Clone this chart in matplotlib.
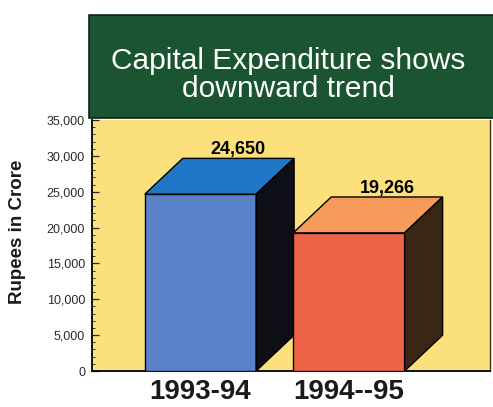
import matplotlib.pyplot as plt
from matplotlib.patches import Polygon, Rectangle
from matplotlib.ticker import MultipleLocator, FuncFormatter

plt.rcParams['font.family'] = 'Liberation Sans'

# Capital expenditure, Rupees in crore
years = ['1993-94', '1994--95']
spend = [24650, 19266]
value_labels = ['24,650', '19,266']

front_colours = ['#5b82c8', '#ef6448']
top_colours = ['#1f77c6', '#f79b5c']
side_colours = ['#0e0e16', '#3a2612']

W, H = 493, 407
fig = plt.figure(figsize=(W / 100, H / 100), dpi=100)
fig.patch.set_facecolor('white')

# plot area in pixel terms -> figure fractions
ax = fig.add_axes([92 / W, (H - 371) / H, (490 - 92) / W, (371 - 120) / H])
ax.set_facecolor('#fbe07c')

bar_w = 0.75
dx, dy = 0.256, 5000   # depth of the 3D boxes (x units, y units)

for i, v in enumerate(spend):
    x0, x1 = i - bar_w / 2, i + bar_w / 2
    ax.add_patch(Rectangle((x0, 0), bar_w, v, facecolor=front_colours[i],
                           edgecolor='black', lw=1, zorder=3))
    ax.add_patch(Polygon([(x0, v), (x1, v), (x1 + dx, v + dy), (x0 + dx, v + dy)],
                         closed=True, facecolor=top_colours[i], edgecolor='black',
                         lw=1, zorder=3))
    ax.add_patch(Polygon([(x1, 0), (x1, v), (x1 + dx, v + dy), (x1 + dx, dy)],
                         closed=True, facecolor=side_colours[i], edgecolor='black',
                         lw=1, zorder=3))
    ax.text(i + dx, v + dy, value_labels[i], ha='center', va='bottom',
            fontsize=13, fontweight='bold', color='black', zorder=4)

ax.set_xlim(-0.73, 1.95)
ax.set_ylim(0, 35000)

ax.yaxis.set_major_locator(MultipleLocator(5000))
ax.yaxis.set_minor_locator(MultipleLocator(1000))
ax.yaxis.set_major_formatter(FuncFormatter(lambda v, p: f'{int(v):,}'))
ax.tick_params(axis='y', which='major', direction='in', length=5, width=0.9,
               labelsize=9, colors='#2a2a2a', pad=5)
ax.tick_params(axis='y', which='minor', direction='in', length=2.5, width=0.7,
               colors='#2a2a2a')

ax.set_xticks(range(len(years)))
ax.set_xticklabels(years, fontsize=20, fontweight='bold', color='#1a1a1a')
ax.tick_params(axis='x', length=0, pad=6)

ax.spines['top'].set_visible(False)
for s in ['left', 'bottom']:
    ax.spines[s].set_color('black')
    ax.spines[s].set_linewidth(1.3)
ax.spines['right'].set_color('#3a3020')
ax.spines['right'].set_linewidth(1)

# green title banner
fig.patches.append(Rectangle((89 / W, (H - 118) / H), (W - 89) / W + 0.02, 103 / H,
                             transform=fig.transFigure, facecolor='#1b5431',
                             edgecolor='#0c2615', lw=1.2))
fig.text(288 / W, (H - 61) / H, 'Capital Expenditure shows', ha='center', va='center',
         color='white', fontsize=21.5)
fig.text(288 / W, (H - 89) / H, 'downward trend', ha='center', va='center',
         color='white', fontsize=21.5)

fig.text(18 / W, (H - 232) / H, 'Rupees in Crore', rotation=90, ha='center',
         va='center', fontsize=13.5, fontweight='bold', color='#1a1a1a')

fig.savefig('out.png', dpi=100)
